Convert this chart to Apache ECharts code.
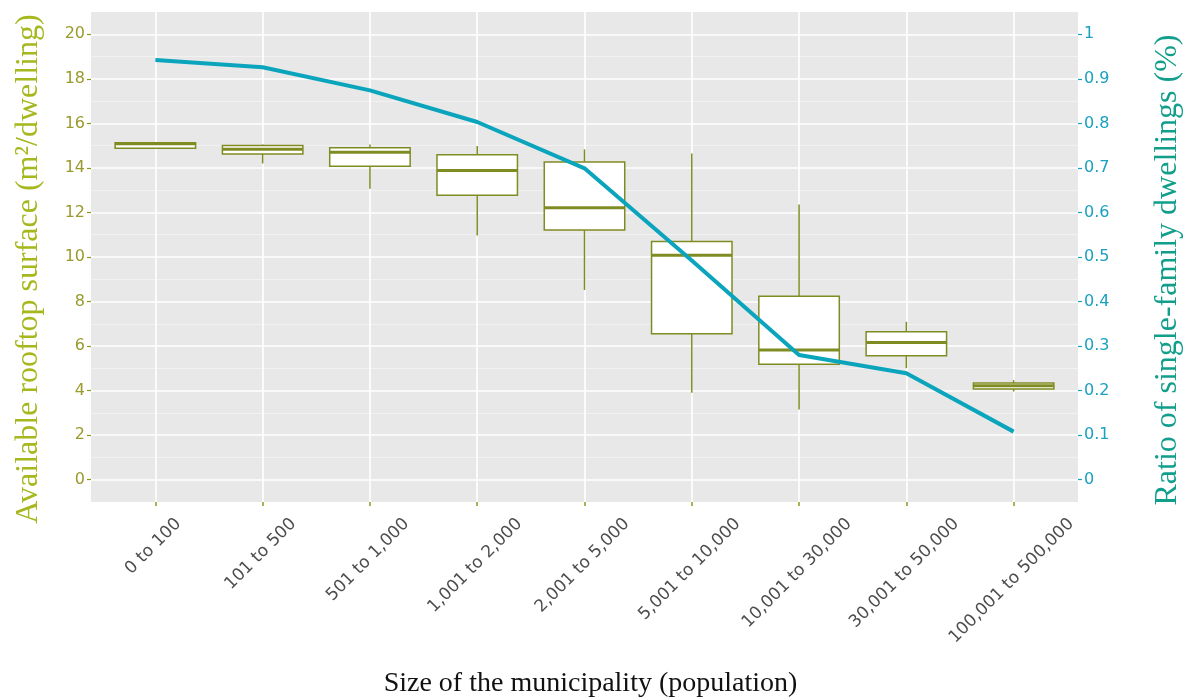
<!DOCTYPE html>
<html>
<head>
<meta charset="utf-8">
<script src="https://cdn.jsdelivr.net/npm/echarts@6/dist/echarts.min.js"></script>
<style>
  html, body { margin: 0; padding: 0; background: #fff; }
  #chart { width: 1187px; height: 699px; }
</style>
</head>
<body>
<div id="chart"></div>
<script>
// categories (size of the municipality)
var categories = ['0 to 100', '101 to 500', '501 to 1,000', '1,001 to 2,000', '2,001 to 5,000',
  '5,001 to 10,000', '10,001 to 30,000', '30,001 to 50,000', '100,001 to 500,000'];

// boxes: [min, Q1, median, Q3, max]  (m2/dwelling)
var rooftopBoxes = [
  [14.86, 14.88, 15.08, 15.13, 15.15],
  [14.20, 14.63, 14.84, 15.01, 15.05],
  [13.06, 14.07, 14.70, 14.90, 15.05],
  [10.96, 12.77, 13.88, 14.59, 14.98],
  [8.52, 11.21, 12.21, 14.27, 14.83],
  [3.91, 6.55, 10.08, 10.70, 14.65],
  [3.15, 5.19, 5.82, 8.24, 12.36],
  [5.01, 5.57, 6.16, 6.64, 7.09],
  [3.96, 4.07, 4.22, 4.34, 4.47]
];

// ratio of single-family dwellings
var singleFamilyRatio = [0.942, 0.926, 0.874, 0.803, 0.699, 0.492, 0.280, 0.239, 0.108];

// tick values
var leftTicks = [0, 2, 4, 6, 8, 10, 12, 14, 16, 18, 20];
var minorTicks = [1, 3, 5, 7, 9, 11, 13, 15, 17, 19];
var rightTicks = [0, 0.1, 0.2, 0.3, 0.4, 0.5, 0.6, 0.7, 0.8, 0.9, 1];
var xTicks = categories.map(function (c, i) { return i; });

var olive = '#7f8c22';
var teal = '#0aa5bd';
var xLabelFont = '17px "DejaVu Sans"';

var chart = echarts.init(document.getElementById('chart'));
var measureCtx = document.createElement('canvas').getContext('2d');
measureCtx.font = xLabelFont;

// ggplot-like box: no whisker caps
function renderBox(params, api) {
  var x = api.value(0);
  var w = api.size([0.75, 0])[0];
  var pMin = api.coord([x, api.value(1)]);
  var pQ1 = api.coord([x, api.value(2)]);
  var pMed = api.coord([x, api.value(3)]);
  var pQ3 = api.coord([x, api.value(4)]);
  var pMax = api.coord([x, api.value(5)]);
  var stroke = { stroke: olive, lineWidth: 1.5 };
  return {
    type: 'group',
    children: [
      { type: 'line', shape: { x1: pMax[0], y1: pMax[1], x2: pQ3[0], y2: pQ3[1] }, style: stroke },
      { type: 'line', shape: { x1: pQ1[0], y1: pQ1[1], x2: pMin[0], y2: pMin[1] }, style: stroke },
      { type: 'rect', shape: { x: pQ3[0] - w / 2, y: pQ3[1], width: w, height: pQ1[1] - pQ3[1] },
        style: { fill: '#ffffff', stroke: olive, lineWidth: 1.5 } },
      { type: 'line', shape: { x1: pMed[0] - w / 2, y1: pMed[1], x2: pMed[0] + w / 2, y2: pMed[1] },
        style: { stroke: olive, lineWidth: 3 } }
    ]
  };
}

// rotated category labels, centred under the tick, top-aligned (ggplot style)
function renderXLabel(params, api) {
  var i = api.value(0);
  var text = categories[i];
  var p = api.coord([i, -1]);
  var half = (measureCtx.measureText(text).width + 12) * Math.SQRT1_2 / 2;
  return {
    type: 'text',
    x: p[0] - 2,
    y: p[1] + 15 + half,
    rotation: Math.PI / 4,
    style: {
      text: text, font: xLabelFont, fill: '#4d4d4d',
      align: 'center', verticalAlign: 'middle'
    }
  };
}

var option = {
  backgroundColor: '#fff',
  animation: false,
  grid: {
    left: 91, right: 109, top: 12, bottom: 197,
    outerBoundsMode: 'none', containLabel: false,
    show: true, backgroundColor: '#e8e8e8', borderWidth: 0
  },
  xAxis: {
    type: 'value',
    min: -0.6, max: 8.6,
    axisLine: { show: false, onZero: false },
    axisTick: { show: true, length: 4, customValues: xTicks, lineStyle: { color: '#8a9a1a', width: 1.5 } },
    axisLabel: { show: false },
    splitLine: { show: true, lineStyle: { color: '#ffffff', width: 1.6 } },
    name: 'Size of the municipality (population)',
    nameLocation: 'middle', nameGap: 168,
    nameTextStyle: { color: '#111', fontFamily: 'Liberation Serif', fontSize: 28, padding: [0, 0, 0, 12] }
  },
  yAxis: [{
    type: 'value',
    min: -1, max: 21,
    position: 'left',
    axisLine: { show: false, onZero: false },
    axisTick: { show: true, length: 4, customValues: leftTicks, lineStyle: { color: '#8a9a1a', width: 1.2 } },
    axisLabel: { customValues: leftTicks, color: '#9a9a2e', fontFamily: 'DejaVu Sans', fontSize: 16, margin: 6 },
    splitLine: { show: true, lineStyle: { color: '#ffffff', width: 1.6 } },
    name: 'Available rooftop surface (m\u00b2/dwelling)',
    nameLocation: 'middle', nameGap: 46, nameRotate: 90,
    nameTextStyle: { color: '#a6b81e', fontFamily: 'Liberation Serif', fontSize: 32, padding: [0, 24, 0, 0] }
  }, {
    type: 'value',
    min: -0.05, max: 1.05,
    position: 'right',
    axisLine: { show: false, onZero: false },
    axisTick: { show: true, length: 4, customValues: rightTicks, lineStyle: { color: '#1aa0c0', width: 1.2 } },
    axisLabel: { customValues: rightTicks, color: '#1aa0c0', fontFamily: 'DejaVu Sans', fontSize: 16, margin: 6 },
    splitLine: { show: false },
    name: 'Ratio of single-family dwellings (%)',
    nameLocation: 'middle', nameGap: 74, nameRotate: 90,
    nameTextStyle: { color: '#119f8c', fontFamily: 'Liberation Serif', fontSize: 32, padding: [0, 26, 0, 0] }
  }, {
    // minor horizontal grid lines only
    type: 'value',
    min: -1, max: 21,
    position: 'left',
    axisLine: { show: false, onZero: false },
    axisTick: { show: false, customValues: minorTicks },
    axisLabel: { show: false },
    splitLine: { show: true, lineStyle: { color: '#f4f4f4', width: 0.8 } }
  }],
  series: [{
    name: 'Rooftop surface',
    type: 'custom',
    yAxisIndex: 0,
    renderItem: renderBox,
    encode: { x: 0, y: [1, 2, 3, 4, 5] },
    data: rooftopBoxes.map(function (b, i) { return [i].concat(b); }),
    z: 3
  }, {
    name: 'Single-family ratio',
    type: 'line',
    yAxisIndex: 1,
    symbol: 'none',
    lineStyle: { color: teal, width: 4 },
    data: singleFamilyRatio.map(function (v, i) { return [i, v]; }),
    z: 5
  }, {
    name: 'Category labels',
    type: 'custom',
    yAxisIndex: 0,
    clip: false,
    silent: true,
    renderItem: renderXLabel,
    encode: { x: 0 },
    data: xTicks.map(function (i) { return [i]; }),
    z: 6
  }]
};

chart.setOption(option);
</script>
</body>
</html>
